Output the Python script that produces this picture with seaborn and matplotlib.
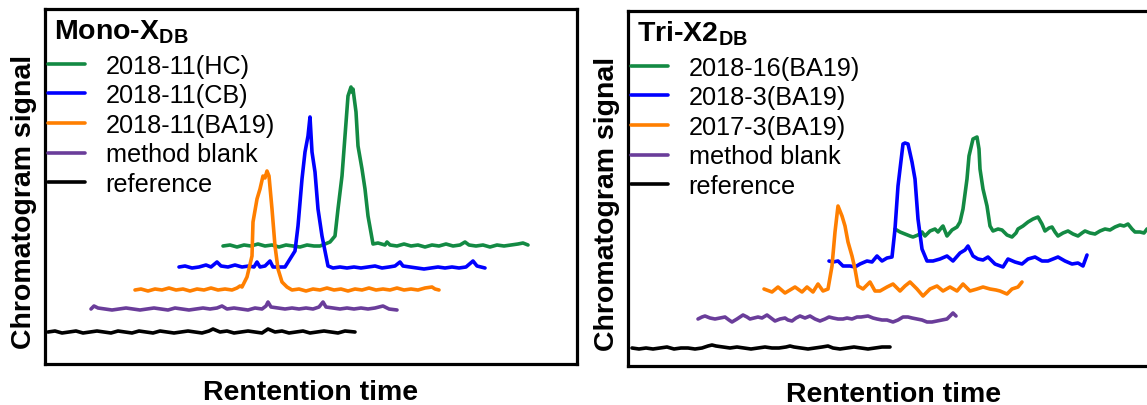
import numpy as np
import pandas as pd
import matplotlib
matplotlib.use("Agg")
import matplotlib.pyplot as plt
from matplotlib.lines import Line2D
import seaborn as sns

# ---------------- data (time, signal) ----------------
LEFT_TITLE = r"Mono-X$_{\mathbf{DB}}$"
RIGHT_TITLE = r"Tri-X2$_{\mathbf{DB}}$"
LEFT_LABELS = ["2018-11(HC)", "2018-11(CB)", "2018-11(BA19)", "method blank", "reference"]
RIGHT_LABELS = ["2018-16(BA19)", "2018-3(BA19)", "2017-3(BA19)", "method blank", "reference"]
COLORS = ["#138a43", "#0000ff", "#ff7f00", "#6a3d9a", "#000000"]

L_GREEN = [(178,118),(185,119),(192,117),(199,119),(206,118),(213,120),(220,118),(227,119),(234,117),
           (241,119),(248,118),(255,117),(262,119),(269,118),(275,118),(280,120),(285,122),(290,128),
           (293,155),(297,188),(300,228),(303,268),(306,277),(307,272),(308,275),(311,252),(313,218),
           (317,195),(320,175),(323,148),(328,120),(333,121),(340,119),(342,122),(345,119),(352,118),
           (359,120),(366,118),(373,119),(380,117),(387,119),(394,118),(401,120),(408,118),(415,119),
           (420,122),(424,119),(431,118),(438,119),(445,117),(452,119),(459,118),(466,119),(473,120),
           (478,121),(483,119)]
L_BLUE = [(134,97),(140,98),(147,96),(154,97),(161,99),(166,97),(172,102),(176,98),(183,97),(190,99),
          (197,97),(204,98),(209,97),(212,102),(215,97),(220,98),(225,103),(228,97),(234,97),(240,97),
          (245,105),(250,113),(253,138),(257,185),(260,212),(263,228),(265,247),(267,212),(270,192),
          (273,155),(277,128),(280,113),(283,98),(288,96),(295,97),(302,96),(309,97),(316,96),(323,97),
          (330,98),(337,96),(344,97),(350,98),(355,102),(358,98),(365,97),(372,96),(379,95),(386,96),
          (393,97),(400,96),(407,97),(414,96),(421,97),(428,103),(432,98),(436,97),(440,96)]
L_ORANGE = [(90,74),(96,75),(103,73),(110,75),(117,74),(124,76),(131,74),(138,75),(145,73),(152,75),
            (159,74),(166,76),(173,74),(180,75),(187,74),(192,76),(195,78),(197,77),(202,87),(207,108),
            (208,142),(212,165),(215,175),(218,188),(220,186),(222,193),(224,188),(227,155),(230,118),
            (233,95),(237,82),(242,77),(247,74),(254,75),(261,73),(268,75),(275,74),(282,76),(289,74),
            (296,75),(303,73),(310,75),(317,74),(324,76),(331,74),(338,75),(345,74),(352,76),(359,74),
            (366,75),(373,74),(380,76),(387,77),(390,75),(394,74)]
L_PURPLE = [(46,55),(49,58),(53,56),(60,55),(67,54),(74,55),(81,56),(88,55),(95,54),(102,55),(109,56),
            (116,55),(123,54),(130,56),(137,55),(144,54),(151,55),(158,56),(165,55),(172,56),(177,58),
            (182,55),(189,56),(196,55),(203,54),(210,56),(217,55),(221,58),(223,62),(226,57),(233,56),
            (240,55),(247,56),(254,55),(261,56),(268,55),(274,57),(278,62),(281,57),(288,56),(295,55),
            (302,56),(309,55),(316,56),(323,55),(330,56),(338,58),(344,55),(352,54)]
L_BLACK = [(3,32),(10,33),(17,31),(24,32),(31,33),(38,31),(45,32),(52,33),(59,32),(66,31),(73,33),
           (80,32),(87,31),(94,33),(101,32),(108,31),(115,33),(122,32),(129,31),(136,32),(143,33),
           (150,32),(157,31),(164,33),(168,35),(175,32),(182,33),(189,31),(196,32),(203,33),(210,32),
           (217,31),(223,35),(230,32),(237,33),(244,31),(251,32),(258,33),(265,31),(272,32),(279,33),
           (286,32),(293,31),(300,33),(310,32)]

R_GREEN = [(267,137),(272,134),(277,132),(282,130),(285,129),(290,131),(294,134),(297,130),(302,135),
           (307,137),(310,134),(314,139),(315,140),(319,130),(324,136),(329,139),(332,144),(335,157),
           (339,187),(341,210),(345,227),(349,229),(351,217),(352,197),(355,177),(359,160),(362,140),
           (365,135),(370,137),(374,136),(379,131),(384,129),(388,133),(390,137),(395,140),(400,144),
           (405,147),(410,149),(414,142),(417,135),(421,138),(424,139),(427,134),(430,130),(435,133),
           (440,135),(445,132),(450,130),(454,133),(457,135),(462,133),(467,132),(472,135),(477,137),
           (482,136),(487,139),(492,141),(496,140),(500,142),(504,137),(507,134),(512,134),(516,133),
           (519,137),(525,138)]
R_BLUE = [(201,105),(205,104),(210,105),(215,100),(222,100),(227,99),(232,102),(239,105),(244,104),
          (249,110),(254,105),(259,108),(264,109),(267,137),(270,180),(275,222),(277,223),(280,222),
          (284,204),(287,187),(290,147),(294,117),(299,105),(305,105),(312,107),(319,110),(325,105),
          (332,113),(337,116),(340,120),(345,110),(350,107),(355,106),(360,109),(367,102),(375,99),
          (380,107),(387,104),(394,102),(400,107),(407,109),(414,105),(420,105),(430,109),(437,105),
          (444,102),(450,103),(455,100),(459,111)]
R_ORANGE = [(136,77),(144,74),(150,79),(157,73),(162,76),(167,79),(174,74),(179,79),(185,74),(190,82),
            (195,75),(200,77),(204,100),(207,134),(210,160),(214,150),(217,140),(220,124),(224,110),
            (227,97),(230,80),(235,77),(242,84),(247,75),(252,75),(259,79),(265,82),(272,75),(277,80),
            (282,84),(289,77),(295,70),(302,77),(309,80),(315,75),(322,79),(329,75),(335,82),(342,75),
            (349,77),(355,79),(362,77),(368,76),(372,75),(379,72),(384,77),(390,79),(394,84)]
R_PURPLE = [(70,47),(74,49),(77,50),(82,48),(87,47),(92,48),(97,49),(101,46),(104,44),(109,47),(115,51),
            (119,49),(122,47),(126,48),(130,49),(134,48),(139,51),(143,48),(147,45),(152,47),(157,48),
            (160,46),(164,45),(168,48),(172,50),(177,48),(182,50),(187,47),(192,45),(197,47),(201,49),
            (205,48),(210,47),(215,47),(219,48),(224,47),(229,49),(233,49),(240,50),(245,48),(249,47),
            (254,46),(259,46),(265,44),(270,46),(275,49),(280,49),(284,48),(289,47),(294,46),(299,44),
            (304,44),(309,45),(314,46),(319,47),(323,51),(325,53),(328,50)]
R_BLACK = [(4,18),(11,17),(18,18),(25,17),(32,18),(39,19),(46,17),(53,18),(60,18),(67,17),(74,18),
           (80,20),(84,21),(88,20),(95,19),(102,18),(109,19),(116,18),(123,17),(130,18),(137,19),
           (144,18),(151,18),(158,19),(162,20),(166,19),(173,18),(180,17),(187,18),(194,19),(200,20),
           (205,18),(212,17),(219,18),(226,19),(233,18),(240,17),(247,18),(254,19),(262,19)]

LEFT_SERIES = [L_GREEN, L_BLUE, L_ORANGE, L_PURPLE, L_BLACK]
RIGHT_SERIES = [R_GREEN, R_BLUE, R_ORANGE, R_PURPLE, R_BLACK]


def frame(series, labels):
    rows = []
    for lab, pts in zip(labels, series):
        for order, (t, s) in enumerate(pts):
            rows.append({"series": lab, "time": t, "signal": s, "order": order})
    return pd.DataFrame(rows)


sns.set_theme(style="white")
plt.rcParams["font.family"] = ["Liberation Sans", "DejaVu Sans"]
plt.rcParams["text.color"] = "black"
plt.rcParams["axes.labelcolor"] = "black"
plt.rcParams["mathtext.fontset"] = "custom"
plt.rcParams["mathtext.rm"] = "Liberation Sans"
plt.rcParams["mathtext.bf"] = "Liberation Sans:bold"

fig = plt.figure(figsize=(11.47, 4.06), dpi=100)
W, H = 1147.0, 406.0
ax_l = fig.add_axes([45 / W, (H - 365) / H, 532 / W, 355 / H])
ax_r = fig.add_axes([628 / W, (H - 367) / H, 532 / W, 355 / H])

for ax, series, labels, title in [(ax_l, LEFT_SERIES, LEFT_LABELS, LEFT_TITLE),
                                  (ax_r, RIGHT_SERIES, RIGHT_LABELS, RIGHT_TITLE)]:
    df = frame(series, labels)
    sns.lineplot(data=df, x="time", y="signal", hue="series", hue_order=labels,
                 palette=COLORS, sort=False, estimator=None,
                 linewidth=2.6, legend=False, ax=ax)
    ax.set_xlim(0, 532)
    ax.set_ylim(0, 355)
    ax.set_xticks([])
    ax.set_yticks([])
    for sp in ax.spines.values():
        sp.set_visible(True)
        sp.set_color("black")
        sp.set_linewidth(2.3)
    ax.set_xlabel("Rentention time", fontsize=20.5, fontweight="bold", color="black")
    ax.set_ylabel("Chromatogram signal", fontsize=20.5, fontweight="bold", color="black")
    ax.xaxis.set_label_coords(0.5, -0.099)
    ax.xaxis.label.set_va("baseline")
    ax.yaxis.set_label_coords(-0.040, 0.459)
    ax.yaxis.label.set_va("center")
    ax.text(0.017, 0.918, title, transform=ax.transAxes, fontsize=20.5,
            fontweight="bold", va="baseline", ha="left", color="black")
    handles = [Line2D([], [], color=c, lw=2.6) for c in COLORS]
    leg = ax.legend(handles, labels, loc="upper left", bbox_to_anchor=(0.005, 0.874),
                    frameon=False, fontsize=18.2, handlelength=1.49, handletextpad=0.80,
                    labelspacing=0.22, borderpad=0, borderaxespad=0)
    for txt in leg.get_texts():
        txt.set_color("black")

fig.savefig("out.png", dpi=100)
